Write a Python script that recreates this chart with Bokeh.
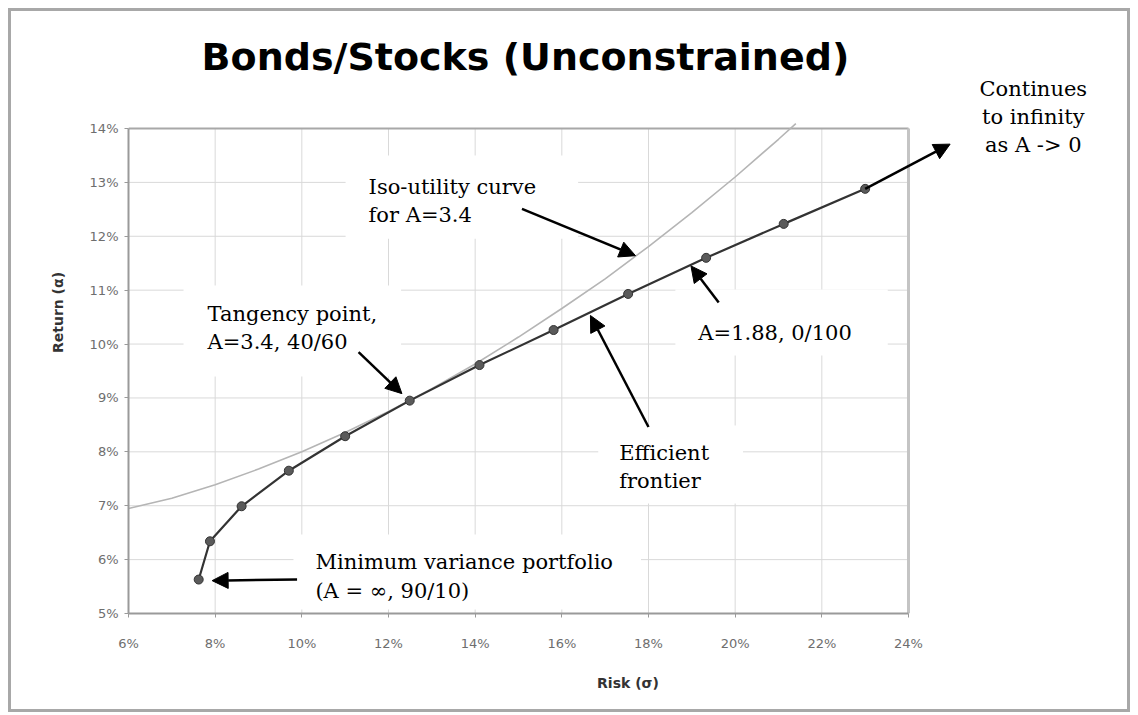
from bokeh.plotting import figure
from bokeh.models import Range1d, FixedTicker, PrintfTickFormatter, Label, Arrow, NormalHead
from bokeh.embed import file_html
from bokeh.resources import INLINE

# ---- data (percent) ----
risk = [7.62, 7.88, 8.61, 9.70, 11.00, 12.49, 14.10, 15.81, 17.53, 19.33, 21.12, 23.00]
ret = [5.63, 6.34, 6.99, 7.65, 8.29, 8.95, 9.61, 10.26, 10.93, 11.60, 12.23, 12.88]

iso_risk = [6, 7, 8, 9, 10, 11, 12, 13, 14, 15, 16, 17, 18, 19, 20, 21, 21.4]
iso_ret = [6.95, 7.14, 7.39, 7.68, 8.00, 8.36, 8.75, 9.17, 9.63, 10.13, 10.66, 11.21,
           11.81, 12.44, 13.10, 13.80, 14.09]

cont_risk = 24.96
cont_ret = 13.71

x_ticks = [6, 8, 10, 12, 14, 16, 18, 20, 22, 24]
y_ticks = [5, 6, 7, 8, 9, 10, 11, 12, 13, 14]

title_text = "Bonds/Stocks (Unconstrained)"

# frame is extended to the right/top so that notes outside the plot area are not clipped
FW, FH = 999, 602
x_end = x_ticks[0] + FW * (x_ticks[-1] - x_ticks[0]) / 780
y_end = y_ticks[0] + FH * (y_ticks[-1] - y_ticks[0]) / 485

p = figure(frame_width=FW, frame_height=FH,
           min_border_left=117, min_border_right=0, min_border_top=0, min_border_bottom=96,
           x_range=Range1d(x_ticks[0], x_end), y_range=Range1d(y_ticks[0], y_end),
           output_backend="svg", toolbar_location=None)
p.styles = {"margin-left": "8px", "margin-top": "8px", "border": "3px solid #a8a8a8"}
p.background_fill_color = "white"
p.border_fill_color = "white"
p.outline_line_color = None
p.grid.visible = False

for ax in (p.xaxis[0], p.yaxis[0]):
    ax.axis_line_color = "#9a9a9a"
    ax.axis_line_width = 2
    ax.major_tick_line_color = "#9a9a9a"
    ax.major_tick_out = 4
    ax.major_tick_in = 0
    ax.minor_tick_line_color = None
    ax.major_label_text_font = "DejaVu Sans"
    ax.major_label_text_font_size = "13px"
    ax.major_label_text_color = "#6e6e6e"
    ax.axis_label_text_font = "DejaVu Sans"
    ax.axis_label_text_font_size = "14px"
    ax.axis_label_text_font_style = "bold"
    ax.axis_label_text_color = "#333333"
    ax.major_label_standoff = 6

p.xaxis.bounds = (x_ticks[0], x_ticks[-1])
p.yaxis.bounds = (y_ticks[0], y_ticks[-1])
p.xaxis.ticker = FixedTicker(ticks=x_ticks)
p.yaxis.ticker = FixedTicker(ticks=y_ticks)
p.xaxis.formatter = PrintfTickFormatter(format="%d%%")
p.yaxis.formatter = PrintfTickFormatter(format="%d%%")
p.xaxis.axis_label = "Risk (σ)"
p.yaxis.axis_label = "Return (α)"
p.xaxis.major_label_standoff = 18
p.xaxis.axis_label_standoff = 21
p.yaxis.axis_label_standoff = 21

# grid lines limited to the plot area
nx, ny = len(x_ticks), len(y_ticks)
p.segment(x0=x_ticks, y0=[y_ticks[0]] * nx, x1=x_ticks, y1=[y_ticks[-1]] * nx,
          line_color="#d9d9d9", line_width=1)
p.segment(x0=[x_ticks[0]] * ny, y0=y_ticks, x1=[x_ticks[-1]] * ny, y1=y_ticks,
          line_color="#d9d9d9", line_width=1)
# plot-area border (top / right)
p.segment(x0=[x_ticks[0]], y0=[y_ticks[-1]], x1=[x_ticks[-1]], y1=[y_ticks[-1]],
          line_color="#a8a8a8", line_width=2)
p.segment(x0=[x_ticks[-1]], y0=[y_ticks[0]], x1=[x_ticks[-1]], y1=[y_ticks[-1]],
          line_color="#c4c4c4", line_width=3)

# iso-utility curve
p.line(iso_risk, iso_ret, line_color="#b5b5b5", line_width=1.6)
# efficient frontier
p.line(risk, ret, line_color="#333333", line_width=2.2)
p.scatter(risk, ret, size=9, fill_color="#5a5a5a", line_color="#333333", line_width=1)

# title
p.add_layout(Label(x=15.16, y=15.32, text=title_text, text_align="center", text_baseline="middle",
                   text_font="DejaVu Sans", text_font_style="bold", text_font_size="38px",
                   text_color="black"))

FONT = "DejaVu Serif"
FS = "21px"

def note(x, y, txt, pad, align="left"):
    p.add_layout(Label(x=x, y=y, text=txt, text_align=align, text_baseline="middle",
                       text_font=FONT, text_font_size=FS, text_color="black",
                       text_line_height=1.17,
                       background_fill_color="white" if pad else None,
                       padding=pad if pad else 0))

note(11.01, 12.727, "Iso-utility curve\nfor A=3.4", dict(left=23, right=42, top=19, bottom=12))
note(7.27, 10.241, "Tangency point,\nA=3.4, 40/60", dict(left=24, right=24, top=16, bottom=23))
note(18.62, 10.399, "A=1.88, 0/100", dict(left=23, right=36, top=31, bottom=11))
note(16.84, 7.764, "Efficient\nfrontier", dict(left=21, right=34, top=15, bottom=11))
note(9.806, 5.770, "Minimum variance portfolio\n(A = ∞, 90/10)", dict(left=22, right=28, top=16, bottom=7))
note(26.88, 14.22, "Continues\nto infinity\nas A -> 0", None, align="center")

def arrow(x0, y0, x1, y1):
    p.add_layout(Arrow(end=NormalHead(size=16, fill_color="black", line_color="black"),
                       x_start=x0, y_start=y0, x_end=x1, y_end=y1,
                       line_color="black", line_width=2.5))

arrow(15.08, 12.51, 17.70, 11.64)
arrow(11.31, 9.85, 12.31, 9.08)
arrow(19.62, 10.77, 18.98, 11.45)
arrow(18.00, 8.46, 16.66, 10.53)
arrow(9.89, 5.63, 7.93, 5.61)
arrow(risk[-1], ret[-1], cont_risk, cont_ret)

open("out.html", "w").write(file_html(p, INLINE))
